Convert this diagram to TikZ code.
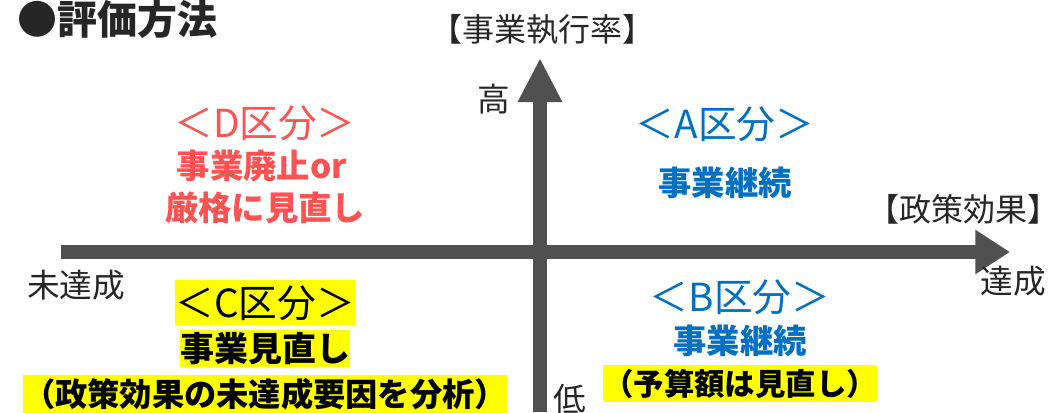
\documentclass[tikz,border=0pt]{standalone}
\usepackage{fontspec}
\setmainfont{Noto Sans CJK JP}
\usetikzlibrary{arrows.meta}

\definecolor{axisgray}{RGB}{80,80,80}
\definecolor{inkgray}{RGB}{38,38,38}
\definecolor{zoneD}{RGB}{255,82,82}
\definecolor{zoneA}{RGB}{0,112,192}
\definecolor{hlyellow}{RGB}{255,255,0}

\begin{document}
\begin{tikzpicture}[x=0.75pt,y=0.75pt,yscale=-1,xscale=1,
  axis/.style={line width=10pt,color=axisgray},
  lbl/.style={inner sep=0pt,text=inkgray,font=\fontsize{24.5}{28}\selectfont},
  zonehead/.style={inner sep=0pt,font=\fontsize{29}{33}\selectfont},
  zonebody/.style={inner sep=0pt,font=\fontsize{25}{29}\selectfont\bfseries},
  hl/.style={inner sep=0pt,fill=hlyellow,text=black}]
%set diagram left start at 0, and has height of 412
\useasboundingbox (0,0) rectangle (1052,412);

%Axis end points
\coordinate (xl) at (61,252);
\coordinate (xr) at (1010,252);
\coordinate (yb) at (540,412);
\coordinate (yt) at (540,58);

%Straight Lines [horizontal axis]
\draw [axis,-{Triangle[length=26pt,width=31.5pt]}] (xl) -- (xr);
%Straight Lines [vertical axis]
\draw [axis,-{Triangle[length=33pt,width=31pt]}] (yb) -- (yt);

% Text Node
\node (title) [inner sep=0pt,anchor=west,text=inkgray,font=\fontsize{30}{34}\selectfont\bfseries] at (17,19) {●評価方法};
% Text Node
\node (ylabel) [lbl,font=\fontsize{24}{28}\selectfont] at (542,30) {【事業執行率】};
% Text Node
\node (xlabel) [lbl,font=\fontsize{24}{28}\selectfont] at (963,209) {【政策効果】};
% Text Node
\node (high) [lbl] at (494,99) {高};
% Text Node
\node (low) [lbl] at (570,399) {低};
% Text Node
\node (notdone) [lbl] at (76,285) {未達成};
% Text Node
\node (done) [lbl] at (1013,281) {達成};

% Text Node
\node (dhead) [zonehead,text=zoneD] at (265,123) {＜D区分＞};
% Text Node
\node (dline1) [zonebody,text=zoneD] at (262,166) {事業廃止or};
% Text Node
\node (dline2) [zonebody,text=zoneD] at (265,208) {厳格に見直し};

% Text Node
\node (ahead) [zonehead,text=zoneA] at (725,124) {＜A区分＞};
% Text Node
\node (aline1) [zonebody,text=zoneA] at (725,183) {事業継続};

% Text Node
\node (bhead) [zonehead,text=zoneA] at (740,297) {＜B区分＞};
% Text Node
\node (bline1) [zonebody,text=zoneA] at (740,341) {事業継続};
% Text Node
\node (bline2) [hl,font=\fontsize{22.8}{26}\selectfont\bfseries,text height=22.6pt,text depth=5.2pt] at (740,383.5) {（予算額は見直し）};

% Text Node
\node (chead) [hl,font=\fontsize{29}{33}\selectfont,text height=27.9pt,text depth=5.8pt] at (265,302.5) {＜C区分＞};
% Text Node
\node (cline1) [hl,font=\fontsize{25.5}{29}\selectfont\bfseries,text height=23.6pt,text depth=4.2pt] at (265,348.5) {事業見直し};
% Text Node
\node (cline2) [hl,font=\fontsize{24.2}{28}\selectfont\bfseries,text height=23.8pt,text depth=5.4pt] at (265,394.5) {（政策効果の未達成要因を分析）};

\end{tikzpicture}
\end{document}
